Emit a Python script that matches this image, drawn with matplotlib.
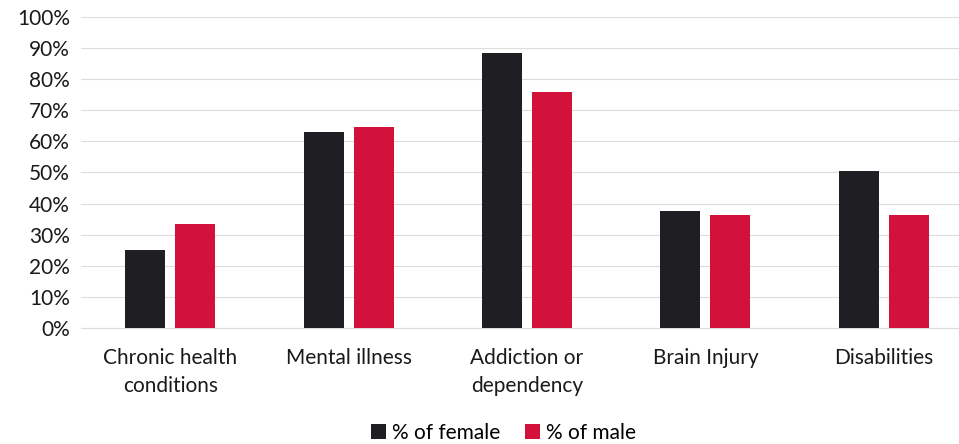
import numpy as np
import matplotlib.pyplot as plt

plt.rcParams['font.family'] = ['Lato', 'DejaVu Sans']

categories = ["Chronic health\nconditions", "Mental illness", "Addiction or\ndependency",
              "Brain Injury", "Disabilities"]
female = [25.0, 63.0, 88.5, 37.5, 50.5]
male   = [33.5, 64.5, 76.0, 36.5, 36.5]

col_female = "#1e1e23"
col_male   = "#d3123c"

fig = plt.figure(figsize=(9.59, 4.44), dpi=100)
ax  = fig.add_axes([0.0845, 0.261, 0.930, 0.701])

x = np.arange(len(categories))
w = 0.225
off = 0.14

ax.bar(x - off, female, w, color=col_female, label="% of female", zorder=3)
ax.bar(x + off, male,   w, color=col_male,   label="% of male",   zorder=3)

ax.set_xlim(-0.5, len(categories) - 0.5)
ax.set_ylim(0, 100)
ax.set_yticks(np.arange(0, 101, 10))
ax.set_yticklabels([f"{v}%" for v in range(0, 101, 10)])
ax.grid(axis="y", color="#dcdcdc", linewidth=0.8, zorder=0)

ax.set_xticks(x)
ax.set_xticklabels(categories, linespacing=1.5)
ax.tick_params(axis="both", length=0, labelsize=15, colors="#1a1a1a")
ax.tick_params(axis="x", pad=14)
ax.tick_params(axis="y", pad=8)

for s in ["top", "right", "left"]:
    ax.spines[s].set_visible(False)
ax.spines["bottom"].set_color("#dcdcdc")

fig.legend(loc="lower center", bbox_to_anchor=(0.525, -0.04), ncol=2, frameon=False,
           fontsize=15, handlelength=0.7, handleheight=0.7, handletextpad=0.3,
           columnspacing=1.2)

fig.savefig("out.png", dpi=100)
